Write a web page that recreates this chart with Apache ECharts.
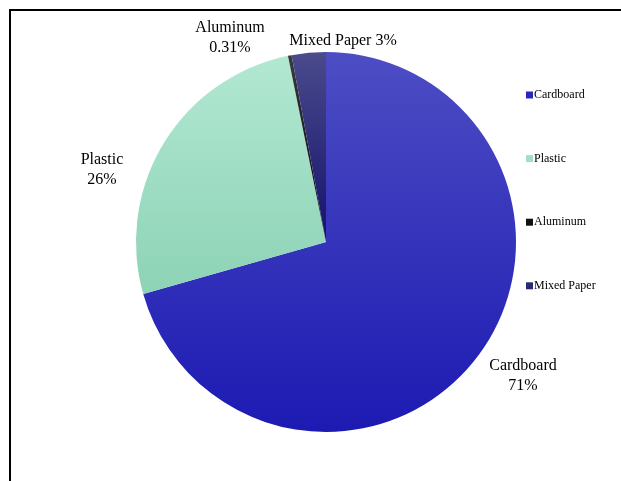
<!DOCTYPE html>
<html>
<head>
<meta charset="utf-8">
<script src="https://cdn.jsdelivr.net/npm/echarts@6/dist/echarts.min.js"></script>
<style>
html,body{margin:0;padding:0;background:#fff;}
#c{width:621px;height:481px;}
</style>
</head>
<body>
<div id="c"></div>
<script>
var categories = ['Cardboard', 'Plastic', 'Aluminum', 'Mixed Paper'];
var values = [70.6, 26.2, 0.31, 2.9];
var labelTexts = ['Cardboard\n71%', 'Plastic\n26%', 'Aluminum\n0.31%', 'Mixed Paper 3%'];

var colorStops = [
  ['#4d4dc4', '#1c1ab2'],
  ['#b2e8d2', '#8dd3b6'],
  ['#3a3a3a', '#000000'],
  ['#4a4a8c', '#14126c']
];
var legendColors = ['#2a28bc', '#a2dfc6', '#111111', '#2a2a70'];
var labelPos = [[523, 376], [102, 170], [230, 38], [343, 41]];

var chart = echarts.init(document.getElementById('c'), null, {renderer: 'canvas'});
var data = categories.map(function (n, i) {
  return {
    name: n,
    value: values[i],
    itemStyle: {
      color: {
        type: 'linear', x: 0, y: 0, x2: 0, y2: 1,
        colorStops: [{offset: 0, color: colorStops[i][0]}, {offset: 1, color: colorStops[i][1]}]
      }
    }
  };
});
chart.setOption({
  animation: false,
  backgroundColor: '#ffffff',
  graphic: [{
    type: 'rect',
    shape: {x: 10, y: 10, width: 700, height: 600},
    style: {fill: 'none', stroke: '#000', lineWidth: 2},
    silent: true,
    z: 100
  }],
  legend: {
    orient: 'vertical',
    left: 521,
    top: 84,
    itemWidth: 7,
    itemHeight: 7,
    itemGap: 51.6,
    icon: 'rect',
    data: categories.map(function (n, i) {
      return {name: n, itemStyle: {color: legendColors[i]}};
    }),
    textStyle: {fontFamily: 'Liberation Serif', fontSize: 12, color: '#000', padding: [0, 0, 0, -4]}
  },
  series: [{
    type: 'pie',
    center: [326, 242],
    radius: 190,
    startAngle: 90,
    clockwise: true,
    data: data,
    label: {
      show: true,
      position: 'outside',
      fontFamily: 'Liberation Serif',
      fontSize: 16,
      color: '#000',
      lineHeight: 20,
      formatter: function (p) { return labelTexts[p.dataIndex]; }
    },
    labelLine: {show: false},
    labelLayout: function (p) {
      var pos = labelPos[p.dataIndex];
      return {x: pos[0], y: pos[1], align: 'center', verticalAlign: 'middle'};
    },
    emphasis: {disabled: true}
  }]
});
</script>
</body>
</html>
